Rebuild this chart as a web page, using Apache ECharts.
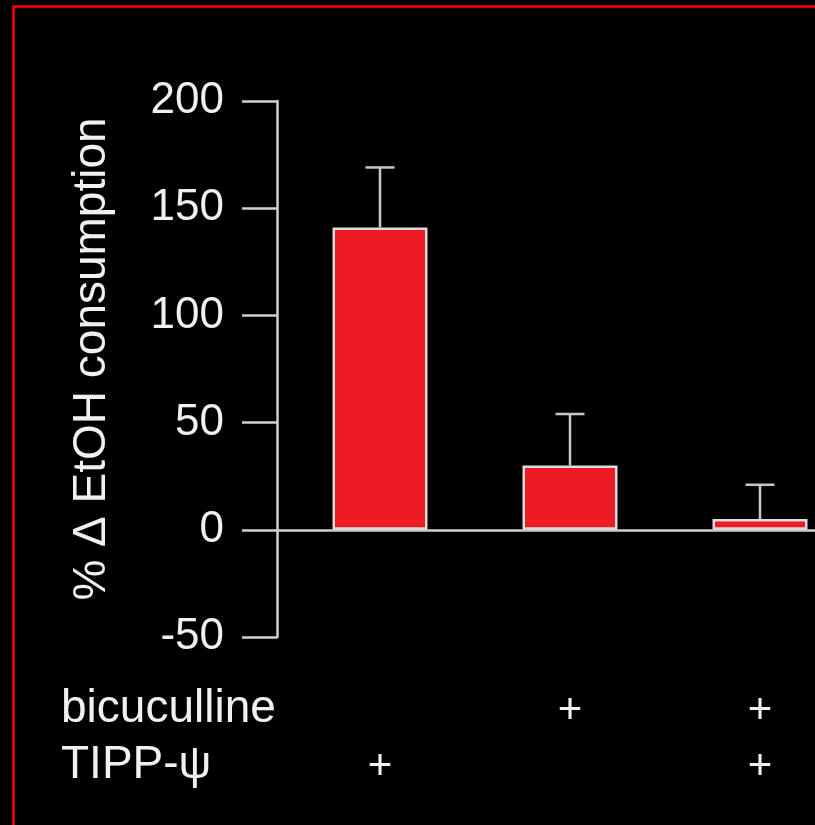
<!DOCTYPE html>
<html>
<head>
<meta charset="utf-8">
<script src="https://cdn.jsdelivr.net/npm/echarts@6/dist/echarts.min.js"></script>
<style>
html,body{margin:0;padding:0;background:#000;}
#c{width:815px;height:825px;}
</style>
</head>
<body>
<div id="c"></div>
<script>
// ---- data ----
var categories = ['TIPP-ψ', 'bicuculline', 'TIPP-ψ + bicuculline'];
var meanValues = [141, 30, 5];
var errorUpper = [169, 54, 21];
var bicucullineRow = ['', '+', '+'];
var tippRow = ['+', '', '+'];
var yTicks = [-50, 0, 50, 100, 150, 200];
var rowTitles = ['bicuculline', 'TIPP-ψ'];

var FONT = "'Liberation Sans', Arial, sans-serif";
var AXIS_COLOR = '#cfcfcf';
var TEXT_COLOR = '#f0f0f0';

var positions = categories.map(function (c, i) { return i + 1; });
var barData = positions.map(function (p, i) { return [p, meanValues[i]]; });
var errData = positions.map(function (p, i) { return [p, meanValues[i], errorUpper[i]]; });

var xMin = 1 - 103 / 190;
var xMax = xMin + 538 / 190;

var chart = echarts.init(document.getElementById('c'), null, {renderer: 'canvas'});
chart.setOption({
  backgroundColor: '#000',
  animation: false,
  grid: {left: 277, right: 0, top: 101, bottom: 188, containLabel: false},
  xAxis: [{
    type: 'value', min: xMin, max: xMax,
    axisLine: {show: true, onZero: true, lineStyle: {color: AXIS_COLOR, width: 2.5}},
    axisTick: {show: false}, axisLabel: {show: false}, splitLine: {show: false}
  }, {
    type: 'value', min: xMin, max: xMax, position: 'bottom',
    axisLine: {show: false}, axisTick: {show: false}, splitLine: {show: false},
    axisLabel: {
      show: true, customValues: positions, margin: 46,
      formatter: function (v) {
        var i = Math.round(v) - 1;
        var a = bicucullineRow[i] || '\u00a0';
        var b = tippRow[i] || '\u00a0';
        return a + '\n' + b;
      },
      color: TEXT_COLOR, fontFamily: FONT, fontSize: 42, lineHeight: 56
    }
  }],
  yAxis: {
    type: 'value', min: -50, max: 200, interval: 50,
    name: '% \u0394 EtOH consumption', nameLocation: 'middle', nameGap: 162,
    nameTextStyle: {color: TEXT_COLOR, fontFamily: FONT, fontSize: 46, padding: [0, 0, 0, 20]},
    axisLine: {show: true, lineStyle: {color: AXIS_COLOR, width: 2.5}},
    axisTick: {show: true, length: 35, lineStyle: {color: AXIS_COLOR, width: 2.5}},
    axisLabel: {color: TEXT_COLOR, fontFamily: FONT, fontSize: 44, margin: 53},
    splitLine: {show: false}
  },
  graphic: [
    {type: 'rect', shape: {x: 13.5, y: 6.5, width: 1000, height: 1000},
     style: {fill: 'none', stroke: '#ff0000', lineWidth: 2.5}, silent: true},
    {type: 'text', left: 61, top: 686, style: {text: rowTitles[0], fill: TEXT_COLOR, font: '46px ' + FONT}},
    {type: 'text', left: 61, top: 742, style: {text: rowTitles[1], fill: TEXT_COLOR, font: '46px ' + FONT}}
  ],
  series: [{
    type: 'bar', xAxisIndex: 0, data: barData, barWidth: 95,
    itemStyle: {color: '#ed1c24', borderColor: '#dcdcdc', borderWidth: 2.5}
  }, {
    type: 'custom', xAxisIndex: 0, data: errData, z: 1,
    renderItem: function (params, api) {
      var base = api.coord([api.value(0), api.value(1)]);
      var top = api.coord([api.value(0), api.value(2)]);
      var half = 14.5;
      var style = {stroke: '#c8c8c8', lineWidth: 2.5};
      return {type: 'group', children: [
        {type: 'line', shape: {x1: base[0], y1: base[1], x2: top[0], y2: top[1]}, style: style},
        {type: 'line', shape: {x1: top[0] - half, y1: top[1], x2: top[0] + half, y2: top[1]}, style: style}
      ]};
    }
  }]
});
</script>
</body>
</html>
